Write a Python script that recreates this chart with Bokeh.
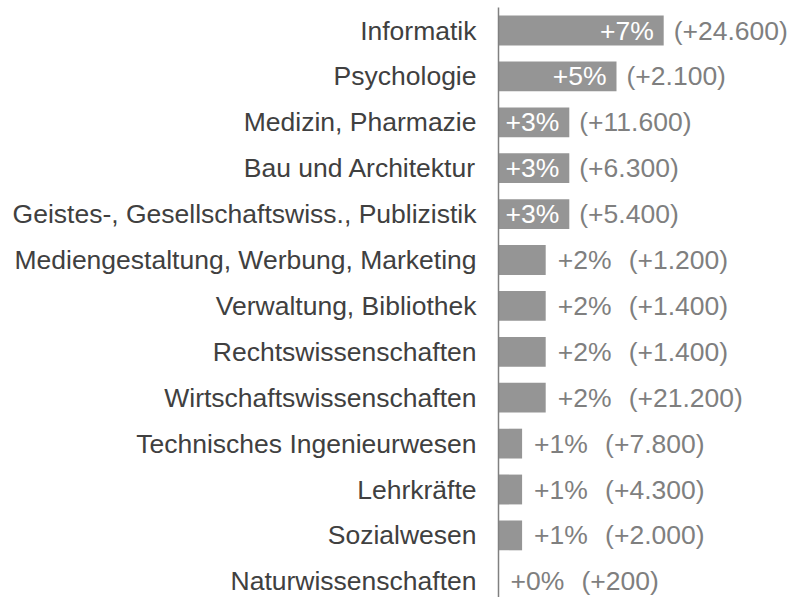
from bokeh.plotting import figure
from bokeh.models import ColumnDataSource, Range1d, FixedTicker
from bokeh.core.properties import value
from bokeh.embed import file_html
from bokeh.resources import INLINE

categories = [
    "Informatik",
    "Psychologie",
    "Medizin, Pharmazie",
    "Bau und Architektur",
    "Geistes-, Gesellschaftswiss., Publizistik",
    "Mediengestaltung, Werbung, Marketing",
    "Verwaltung, Bibliothek",
    "Rechtswissenschaften",
    "Wirtschaftswissenschaften",
    "Technisches Ingenieurwesen",
    "Lehrkräfte",
    "Sozialwesen",
    "Naturwissenschaften",
]
growth_pct = [7, 5, 3, 3, 3, 2, 2, 2, 2, 1, 1, 1, 0]
growth_abs = [24600, 2100, 11600, 6300, 5400, 1200, 1400, 1400, 21200, 7800, 4300, 2000, 200]

FONT = "Liberation Sans"
FONT_SIZE = "26.5px"
BAR_COLOR = "#959595"
LABEL_GRAY = "#7f7f7f"

n = len(categories)
rows = list(range(n))
pct_text = [f"+{v}%" for v in growth_pct]
abs_text = ["(+" + f"{v:,}".replace(",", ".") + ")" for v in growth_abs]
inside = [v >= 3 for v in growth_pct]

bars = ColumnDataSource(dict(y=rows, right=growth_pct))
pct_src = ColumnDataSource(dict(
    x=growth_pct, y=rows, text=pct_text,
    xoff=[-10 if i else 12 for i in inside],
    align=["right" if i else "left" for i in inside],
    color=["white" if i else LABEL_GRAY for i in inside],
))
abs_src = ColumnDataSource(dict(
    x=growth_pct, y=rows, text=abs_text,
    xoff=[10 if i else 83 for i in inside],
))

plot_w, plot_h = 793, 597
border_left = 498
px_per_pct = 23.6
pitch = 45.9
top_pad = 30 / pitch

p = figure(
    width=plot_w, height=plot_h,
    x_range=Range1d(0, (plot_w - border_left) / px_per_pct),
    y_range=Range1d(start=-top_pad + plot_h / pitch, end=-top_pad),
    x_axis_location=None,
    output_backend="svg", toolbar_location=None,
    min_border_left=border_left, min_border_right=0, min_border_top=0, min_border_bottom=0,
)
p.outline_line_color = None
p.xgrid.visible = False
p.ygrid.visible = False

p.hbar(y="y", left=0, right="right", height=0.65, source=bars,
       fill_color=BAR_COLOR, line_color=None)

p.text(x="x", y="y", text="text", x_offset="xoff", text_align="align",
       text_baseline="middle", text_color="color", source=pct_src,
       text_font=value(FONT), text_font_size=FONT_SIZE)
p.text(x="x", y="y", text="text", x_offset="xoff", text_align="left",
       text_baseline="middle", text_color=LABEL_GRAY, source=abs_src,
       text_font=value(FONT), text_font_size=FONT_SIZE)

ax = p.yaxis[0]
ax.ticker = FixedTicker(ticks=rows)
ax.major_label_overrides = {i: c for i, c in zip(rows, categories)}
ax.major_label_text_font = FONT
ax.major_label_text_font_size = FONT_SIZE
ax.major_label_text_color = "#404040"
ax.major_tick_line_color = None
ax.minor_tick_line_color = None
ax.major_tick_out = 0
ax.major_tick_in = 0
ax.major_label_standoff = 22
ax.axis_line_color = "#808080"
ax.axis_line_width = 1.5
ax.bounds = (-0.51, n + 1)

open("out.html", "w").write(file_html(p, INLINE))
